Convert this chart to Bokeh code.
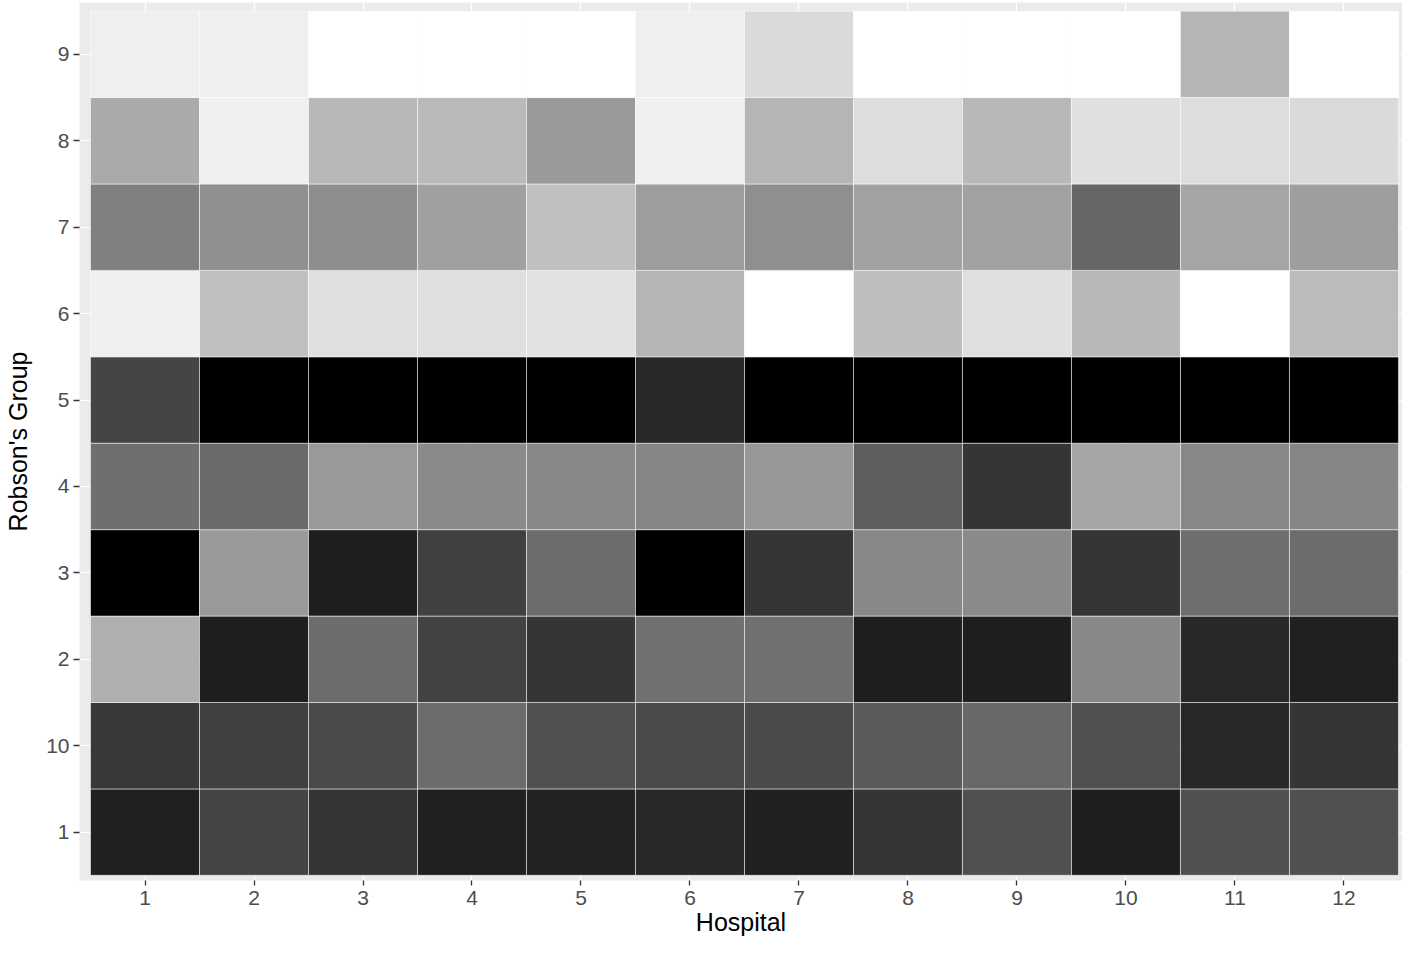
from bokeh.plotting import figure
from bokeh.models import ColumnDataSource, LinearColorMapper, FixedTicker, Range1d
from bokeh.embed import file_html
from bokeh.resources import INLINE

# Categories
hospitals = ["1", "2", "3", "4", "5", "6", "7", "8", "9", "10", "11", "12"]
groups = ["1", "10", "2", "3", "4", "5", "6", "7", "8", "9"]  # bottom to top

# Fill value (grey level, 0 = black, 255 = white) per Robson's group, by hospital
shade_g1 = [32, 69, 53, 32, 34, 40, 32, 53, 80, 30, 80, 80]
shade_g10 = [56, 64, 74, 108, 80, 74, 74, 90, 104, 80, 40, 53]
shade_g2 = [176, 30, 108, 66, 53, 112, 112, 30, 30, 136, 40, 32]
shade_g3 = [0, 154, 30, 64, 108, 0, 53, 136, 138, 53, 110, 108]
shade_g4 = [111, 106, 153, 138, 136, 133, 152, 94, 53, 165, 136, 133]
shade_g5 = [69, 0, 0, 0, 0, 40, 0, 0, 0, 0, 0, 0]
shade_g6 = [240, 192, 223, 224, 226, 181, 255, 190, 224, 184, 255, 187]
shade_g7 = [128, 144, 142, 160, 192, 157, 143, 162, 162, 102, 165, 158]
shade_g8 = [170, 240, 184, 186, 154, 240, 181, 221, 184, 224, 221, 218]
shade_g9 = [239, 239, 255, 255, 255, 239, 218, 255, 255, 255, 181, 255]

shades = {
    "1": shade_g1, "10": shade_g10, "2": shade_g2, "3": shade_g3, "4": shade_g4,
    "5": shade_g5, "6": shade_g6, "7": shade_g7, "8": shade_g8, "9": shade_g9,
}

xs, ys, vals = [], [], []
for gi, g in enumerate(groups):
    for hi, h in enumerate(hospitals):
        xs.append(hi + 1)
        ys.append(gi + 1)
        vals.append(shades[g][hi])

source = ColumnDataSource(dict(x=xs, y=ys, v=vals))
palette = ["#%02x%02x%02x" % (i, i, i) for i in range(256)]
mapper = LinearColorMapper(palette=palette, low=0, high=255)

FONT = "Liberation Sans"

p = figure(width=1402, height=939, output_backend="svg", toolbar_location=None,
           x_range=Range1d(0.399, 12.537),
           y_range=Range1d(0.44, 10.6),
           min_border_left=79, min_border_right=0, min_border_top=2, min_border_bottom=59)

p.background_fill_color = "#EBEBEB"
p.border_fill_color = "white"
p.outline_line_color = None

p.rect(x="x", y="y", width=1, height=1, source=source,
       fill_color={"field": "v", "transform": mapper},
       line_color="white", line_width=0.7, line_alpha=0.75)

p.grid.grid_line_color = "white"
p.grid.grid_line_width = 1.2
p.grid.minor_grid_line_color = None

p.xaxis.ticker = FixedTicker(ticks=list(range(1, len(hospitals) + 1)))
p.xaxis.major_label_overrides = {i + 1: h for i, h in enumerate(hospitals)}
p.yaxis.ticker = FixedTicker(ticks=list(range(1, len(groups) + 1)))
p.yaxis.major_label_overrides = {i + 1: g for i, g in enumerate(groups)}

for ax in (p.xaxis, p.yaxis):
    ax.axis_line_color = None
    ax.major_tick_line_color = "#333333"
    ax.major_tick_line_width = 1.3
    ax.major_tick_out = 6
    ax.major_tick_in = 0
    ax.minor_tick_line_color = None
    ax.major_label_text_font = FONT
    ax.major_label_text_font_size = "21px"
    ax.major_label_text_color = "#4D4D4D"
    ax.axis_label_text_font = FONT
    ax.axis_label_text_font_size = "25px"
    ax.axis_label_text_font_style = "normal"
    ax.axis_label_text_color = "black"

p.xaxis.axis_label = "Hospital"
p.yaxis.axis_label = "Robson's Group"
p.xaxis.major_tick_out = 5
p.xaxis.major_label_standoff = 5
p.xaxis.axis_label_standoff = 0
p.yaxis.major_label_standoff = 4
p.yaxis.axis_label_standoff = 11

open("out.html", "w").write(file_html(p, INLINE))
